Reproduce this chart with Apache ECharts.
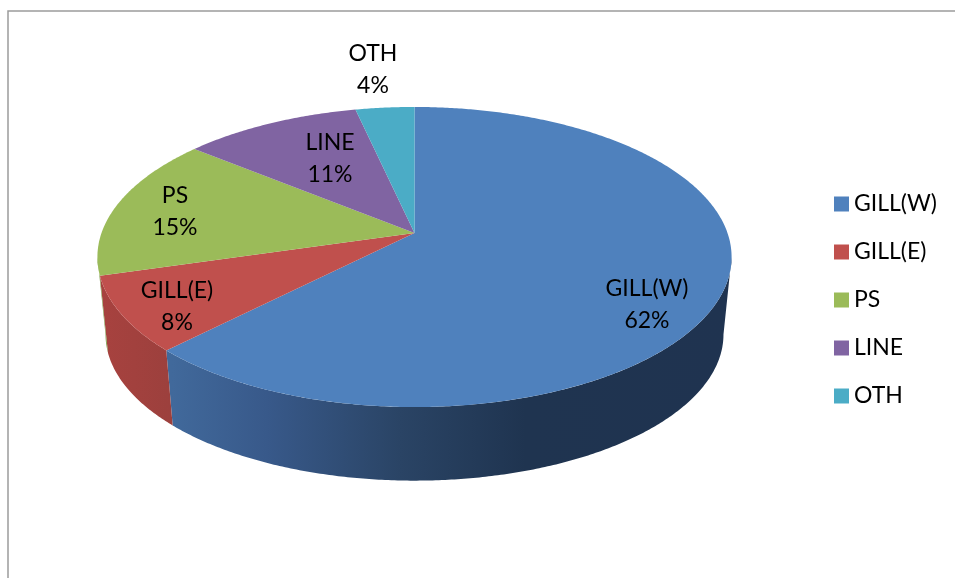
<!DOCTYPE html>
<html>
<head>
<meta charset="utf-8">
<style>html,body{margin:0;padding:0;background:#fff}#c{width:955px;height:578px}</style>
<script src="https://cdn.jsdelivr.net/npm/echarts@6/dist/echarts.min.js"></script>
</head>
<body>
<div id="c"></div>
<script>
const categories = ['GILL(W)', 'GILL(E)', 'PS', 'LINE', 'OTH'];
const values = [62.4, 8.1, 15.4, 10.6, 3.5];
const topColors = ['#4f81bd', '#c0504d', '#9bbb59', '#8064a2', '#4bacc6'];

const total = values.reduce((a, b) => a + b, 0);
const FONT = 'Lato, "Open Sans", sans-serif';
const top3d = { cx: 414.5, cy: 233, a: 313, b: 146.2, k: 0.16 };
const low3d = { cx: 414.5, cy: 311, a: 305, b: 142.5, k: 0.16 };
const labelAt = [[647, 305], [177, 307], [175, 212], [330, 159], [373, 70]];
const wallStops = [
  [[172, '#41699b'], [267, '#38598a'], [400, '#2a4465'], [525, '#1f3450'], [735, '#1f3350']],
  [[97, '#a8423f'], [172, '#9c403d']],
  [[97, '#7c9a48'], [110, '#7c9a48']]
];

function project(m, deg) {
  const t = deg * Math.PI / 180, X = Math.sin(t), Y = -Math.cos(t), d = 1 - m.k * Y;
  return [m.cx + m.a * X / d, m.cy + m.b * Y / d];
}
function arc(m, from, to) {
  const pts = [], n = Math.max(2, Math.ceil(Math.abs(to - from) * 2));
  for (let i = 0; i <= n; i++) pts.push(project(m, from + (to - from) * i / n));
  return pts;
}
function wallFill(i) {
  const s = wallStops[i], x0 = s[0][0], x1 = s[s.length - 1][0];
  return new echarts.graphic.LinearGradient(x0, 0, x1, 0,
    s.map(p => ({ offset: (p[0] - x0) / (x1 - x0), color: p[1] })), true);
}
function renderSlice(params, api) {
  const i = params.seriesIndex;
  const before = values.slice(0, i).reduce((a, b) => a + b, 0);
  const start = before / total * 360, end = (before + api.value(0)) / total * 360;
  const children = [];
  const wFrom = Math.max(start, 99.2), wTo = Math.min(end, 260.8);
  if (wTo > wFrom) {
    const pts = arc(top3d, wFrom, wTo).concat(arc(low3d, wTo, wFrom));
    children.push({ type: 'polygon', z2: 1 + i, shape: { points: pts }, style: { fill: wallFill(i) } });
  }
  children.push({
    type: 'polygon', z2: 10,
    shape: { points: [[top3d.cx, top3d.cy]].concat(arc(top3d, start, end)) },
    style: { fill: topColors[i] }
  });
  children.push({
    type: 'text', z2: 20, x: labelAt[i][0], y: labelAt[i][1],
    style: {
      text: categories[i] + '\n' + Math.round(api.value(0) / total * 100) + '%',
      align: 'center', verticalAlign: 'middle', font: '23px ' + FONT, lineHeight: 32, fill: '#000'
    }
  });
  return { type: 'group', children };
}

const chart = echarts.init(document.getElementById('c'), null, { renderer: 'canvas' });
chart.setOption({
  animation: false,
  backgroundColor: '#fff',
  graphic: [{
    type: 'rect', shape: { x: 8, y: 11, width: 1100, height: 800 },
    style: { fill: 'none', stroke: '#9c9c9c', lineWidth: 1.5 }, silent: true, z: 0
  }],
  legend: {
    orient: 'vertical', left: 834, top: 192, itemWidth: 15, itemHeight: 15, itemGap: 24,
    icon: 'rect', data: categories,
    textStyle: { fontFamily: FONT, fontSize: 23, color: '#000', lineHeight: 24, padding: [0, 0, 0, 0] },
    padding: 0
  },
  series: categories.map((name, i) => ({
    type: 'custom', name, coordinateSystem: 'none', renderItem: renderSlice,
    data: [[values[i]]], itemStyle: { color: topColors[i] }, z: 2
  }))
});
</script>
</body>
</html>
